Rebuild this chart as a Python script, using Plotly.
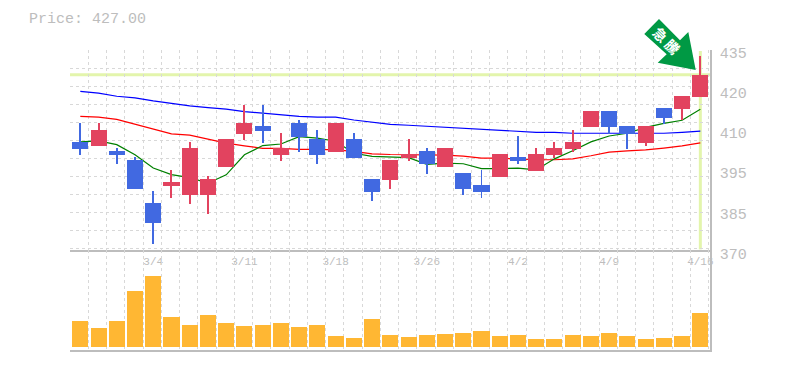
import plotly.graph_objects as go

dates = ["2/27","2/28","2/29","3/1","3/4","3/5","3/6","3/7","3/8","3/11","3/12","3/13","3/14","3/15","3/18","3/19","3/21","3/22","3/25","3/26","3/27","3/28","3/29","4/1","4/2","4/3","4/4","4/5","4/8","4/9","4/10","4/11","4/12","4/15","4/16"]
opens = [405.2,403.9,402.3,399.4,385.4,391.0,388.0,388.0,397.1,407.8,410.4,401.0,411.3,406.2,402.0,406.2,393.2,392.9,400.0,402.3,397.1,395.2,391.3,393.9,400.3,395.8,401.0,402.9,410.0,415.2,410.4,404.9,416.2,415.9,419.8]
highs = [411.3,411.3,403.3,400.3,389.3,396.1,405.2,394.2,406.2,417.2,417.2,408.1,412.3,409.1,411.3,408.1,393.2,399.4,406.2,403.3,403.3,395.2,396.1,401.3,407.1,403.3,405.2,409.1,415.2,415.2,410.4,410.4,416.2,420.1,433.0]
lows = [401.0,403.9,398.1,390.0,372.2,387.1,385.1,381.9,397.1,405.8,404.9,399.0,402.0,398.1,402.0,400.0,386.1,390.0,399.0,394.8,397.1,388.0,387.1,393.9,398.1,395.8,400.0,402.0,410.0,407.8,402.9,403.9,411.0,412.3,419.8]
closes = [402.9,409.1,401.0,390.0,379.0,392.2,403.3,393.2,406.2,411.3,408.8,403.3,406.8,401.0,411.3,400.0,389.0,399.4,401.3,398.1,403.3,390.0,389.0,401.3,399.0,401.3,403.3,405.2,415.2,410.0,407.8,410.4,413.0,420.1,427.0]
volumes = [26,19,26,56,71,30,22,32,24,21,22,24,20,22,11,9,28,12,10,12,13,14,16,11,12,8,8,12,11,14,11,8,9,11,34]
ma_short = [405.2,405.5,404.3,401.0,396.7,394.6,393.6,391.8,394.5,401.0,404.0,404.5,406.9,406.4,405.4,401.5,400.5,400.2,400.1,397.9,398.3,398.1,396.5,396.5,396.7,396.1,399.7,402.3,405.2,407.1,408.0,409.9,411.2,412.2,415.8]
ma_mid = [413.5,413.2,412.5,411.0,409.3,407.8,407.4,406.2,404.8,403.9,403.1,403.1,402.8,402.8,402.6,402.1,401.3,401.1,401.1,401.1,400.9,400.6,399.9,399.9,399.6,399.4,399.4,399.7,400.7,401.9,402.3,402.6,403.2,403.9,404.9]
ma_long = [421.6,421.0,420.0,419.5,418.5,417.6,416.9,416.3,415.8,415.0,414.5,413.8,413.5,413.2,413.2,412.3,411.6,410.9,410.6,410.3,410.0,409.6,409.3,409.0,408.7,408.3,408.3,408.0,408.0,408.0,408.0,408.0,408.0,408.3,408.7]
price_tick_values = [370,383,396,409,422,435]
price_tick_labels = ["370","385","395","410","420","435"]
date_tick_values = ["3/4","3/11","3/18","3/26","4/2","4/9","4/16"]
last_price = 427.0

GREY = "#bdbdbd"
GRID = "#d8d8d8"
FONT = "Liberation Mono"
RED = "#E2435F"
BLUE = "#4169E1"
x_grid = [i - 0.55 for i in range(len(dates) + 1)]
x_range = [-0.565, 34.53]
price_range = [370, 435]
vol_range = [-2.6, 97]
candle_colors = [RED if c >= o else BLUE for o, c in zip(opens, closes)]

fig = go.Figure()

for vals, col in ((ma_long, "#0000ff"), (ma_mid, "#ff0000"), (ma_short, "#008000")):
    fig.add_trace(go.Scatter(x=dates, y=vals, mode="lines", line=dict(color=col, width=1.2),
                             xaxis="x", yaxis="y", hoverinfo="skip", showlegend=False))

# wicks, then bodies, on an overlay axis pair so they sit above the averages
fig.add_trace(go.Bar(x=dates, base=lows, y=[h - l for h, l in zip(highs, lows)], width=0.055,
                     marker=dict(color=candle_colors, line=dict(width=0)), xaxis="x3", yaxis="y3", showlegend=False))
fig.add_trace(go.Bar(x=dates, base=[min(o, c) for o, c in zip(opens, closes)],
                     y=[abs(c - o) for o, c in zip(opens, closes)], width=0.88,
                     marker=dict(color=candle_colors, line=dict(width=0)), xaxis="x3", yaxis="y3", showlegend=False))

fig.add_trace(go.Bar(x=dates, y=volumes, width=0.88, marker=dict(color="#FFB733", line=dict(width=0)),
                     xaxis="x2", yaxis="y2", showlegend=False))

x_common = dict(type="category", categoryorder="array", categoryarray=dates, range=x_range,
                fixedrange=True, showgrid=False, zeroline=False, automargin=False)
minor_x = dict(tickvals=x_grid, showgrid=True, gridcolor=GRID, griddash="3px,3px", gridwidth=1, ticks="")

arrow_pts = [(659, 19), (644.3, 34), (666.7, 54.3), (657.7, 62.7), (695.7, 70), (688.3, 32), (680, 40.3)]
arrow_path = "M " + " L ".join(f"{(px - 70) / 640:.4f} {(350 - py) / 300:.4f}" for px, py in arrow_pts) + " Z"

fig.update_layout(
    width=785, height=370, margin=dict(l=70, r=75, t=50, b=20), paper_bgcolor="white", plot_bgcolor="white",
    bargap=0, barmode="overlay", showlegend=False,
    title=dict(text="Price: 427.00", x=29 / 785, xanchor="left", y=1 - 18 / 370, yanchor="middle",
               font=dict(family=FONT, size=15, color=GREY)),
    xaxis=dict(**x_common, domain=[0, 1], anchor="y",
               tickmode="array", tickvals=date_tick_values, ticktext=date_tick_values, ticks="", ticklen=0,
               tickfont=dict(family=FONT, size=11, color=GREY), minor=minor_x,
               showline=True, linecolor=GREY, linewidth=1.5),
    yaxis=dict(domain=[99.6 / 300, 1], range=price_range, anchor="x", side="right", fixedrange=True, automargin=False,
               tickmode="array", tickvals=price_tick_values, ticktext=price_tick_labels,
               tickfont=dict(family=FONT, size=15, color=GREY), showgrid=False, zeroline=False,
               ticks="", ticklabelstandoff=5, ticklabelshift=3,
               minor=dict(tick0=435, dtick=5.85, showgrid=True, gridcolor=GRID, griddash="3px,3px", gridwidth=1, ticks=""),
               showline=True, linecolor=GREY, linewidth=1.5),
    xaxis2=dict(**x_common, domain=[0, 1], anchor="y2", showticklabels=False, ticks="", minor=minor_x,
                showline=True, linecolor=GREY, linewidth=1.5),
    yaxis2=dict(domain=[0, 99.6 / 300], range=vol_range, anchor="x2", side="right", fixedrange=True, automargin=False,
                showticklabels=False, showgrid=False, zeroline=False, ticks="",
                showline=True, linecolor=GREY, linewidth=1.5),
    xaxis3=dict(**x_common, overlaying="x", anchor="y3", visible=False),
    yaxis3=dict(range=price_range, overlaying="y", anchor="x3", side="right", visible=False, fixedrange=True, automargin=False),
    shapes=[
        dict(type="line", layer="below", xref="x domain", yref="y", x0=0, x1=1, y0=last_price, y1=last_price,
             line=dict(color="#E3F5AC", width=3)),
        dict(type="line", layer="below", xref="x", yref="y domain", x0=34, x1=34, y0=0.005, y1=0.995,
             line=dict(color="#E3F5AC", width=3)),
        dict(type="path", xref="paper", yref="paper", layer="above", line=dict(width=0), fillcolor="#009944",
             path=arrow_path),
    ],
    annotations=[
        dict(text="<b>急\u2009騰</b>", xref="paper", yref="paper", x=(666 - 70) / 640, y=(350 - 40.5) / 300,
             xanchor="center", yanchor="middle",
             showarrow=False, textangle=45, font=dict(family="Noto Sans CJK JP", size=14, color="white")),
    ],
)

fig.write_html("out.html", config=dict(displayModeBar=False), post_script="document.body.style.margin='0';")
